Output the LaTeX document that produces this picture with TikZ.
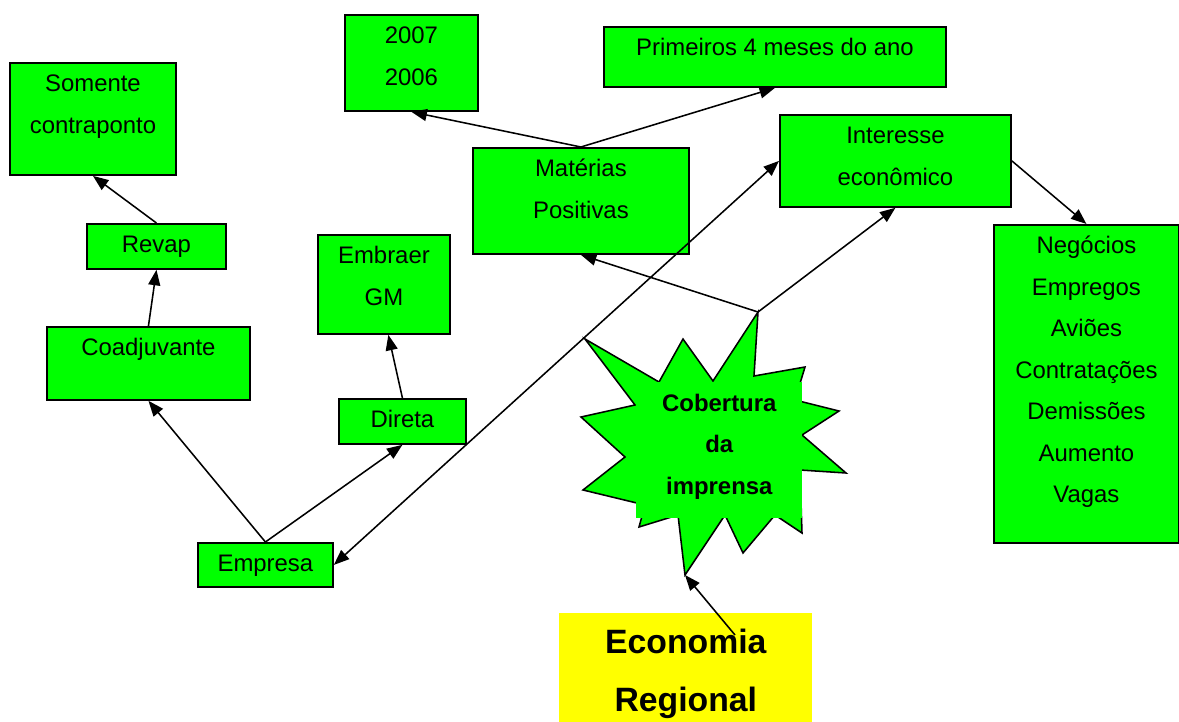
\documentclass[tikz,border=0pt]{standalone}
\usepackage{fontspec}
\setmainfont{Liberation Sans}
\usepackage{tikz}
\usetikzlibrary{arrows.meta}
\definecolor{vivid}{RGB}{0,255,0}
\definecolor{sun}{RGB}{255,255,0}
\newcommand{\boxlines}[1]{\begin{tabular}[t]{@{}c@{}}#1\end{tabular}}

\begin{document}
\begin{tikzpicture}[
    x=0.025cm, y=-0.025cm,
    box/.style={rectangle, draw=black, line width=1.3pt, fill=vivid, anchor=north west,
        text height=12pt, inner xsep=0pt, inner ysep=8.6pt,
        font=\fontsize{17}{29.5}\selectfont},
    core/.style={rectangle, draw=none, fill=vivid, anchor=north west,
        text height=12pt, inner xsep=0pt, inner ysep=8.6pt,
        font=\fontsize{17}{29.5}\selectfont\bfseries},
    theme/.style={rectangle, draw=none, fill=sun, anchor=north west,
        text height=17.2pt, inner xsep=0pt, inner ysep=11.3pt,
        font=\fontsize{24}{41}\selectfont\bfseries},
    burst/.style={draw=black, line width=1.1pt, fill=vivid, line join=miter},
    arrow/.style={-{Triangle[length=11pt, width=8.5pt]}, line width=1.1pt},
    dblarrow/.style={{Triangle[length=11pt, width=8.5pt]}-{Triangle[length=11pt, width=8.5pt]}, line width=1.1pt}
    ]
    \useasboundingbox (0,0) rectangle (1179,722);

    % left branch
    \node (Somente) [box, minimum width=118.1pt, text depth=50.5pt] at (9,62) {\boxlines{Somente\\contraponto}};
    \node (Revap) [box, minimum width=98.9pt, text depth=2.8pt] at (86,223) {Revap};
    \node (Coadj) [box, minimum width=144.4pt, text depth=22.7pt] at (46,326) {Coadjuvante};
    \node (Embraer) [box, minimum width=93.9pt, text depth=41.2pt] at (317,234) {\boxlines{Embraer\\GM}};
    \node (Direta) [box, minimum width=90.3pt, text depth=2.8pt] at (338,398) {Direta};
    \node (Empresa) [box, minimum width=96pt, text depth=2.1pt] at (197,542) {Empresa};

    % top branch
    \node (Anos) [box, minimum width=94.6pt, text depth=39.1pt] at (344,14) {\boxlines{2007\\2006}};
    \node (Primeiros) [box, minimum width=243.3pt, text depth=13.5pt] at (603,26) {Primeiros 4 meses do ano};
    \node (Materias) [box, minimum width=153.6pt, text depth=46.2pt] at (472,147) {\boxlines{Matérias\\Positivas}};

    % right branch
    \node (Interesse) [box, minimum width=164.3pt, text depth=36.2pt] at (779,114) {\boxlines{Interesse\\econômico}};
    \node (Negocios) [box, minimum width=131.6pt, text depth=197pt] at (993,224)
        {\boxlines{Negócios\\Empregos\\Aviões\\Contratações\\Demissões\\Aumento\\Vagas}};

    % centre
    \coordinate (StarTop) at (758,312);
    \coordinate (StarBottom) at (685,575);
    \draw[burst] (StarTop) -- (754,376) -- (805,367) -- (795,400) -- (839,411) -- (802,435)
        -- (846,473) -- (800,470) -- (802,533) -- (775,515) -- (743,553) -- (725,515)
        -- (StarBottom) -- (678,515) -- (639,527) -- (645,505) -- (583,490) -- (625,457)
        -- (581,417) -- (635,405) -- (585,339) -- (659,382) -- (683,339) -- (713,381) -- cycle;
    \node (Cobertura) [core, minimum width=118.1pt, text depth=67.5pt] at (636,382) {\boxlines{Cobertura\\da\\imprensa}};

    \node (Economia) [theme, minimum width=180pt, text depth=60pt] at (559,613) {\boxlines{Economia\\Regional}};
    \coordinate (EconTail) at (735,635);

    % connectors
    \draw[arrow] (Revap.north) -- (Somente.south);
    \draw[arrow] (Coadj.north) -- (Revap.south);
    \draw[arrow] (Empresa.north) -- (Coadj.south);
    \draw[arrow] (Empresa.north) -- (Direta.south);
    \draw[arrow] (Direta.north) -- (Embraer.-85);
    \draw[dblarrow] (Empresa.east) -- (Interesse.west);
    \draw[arrow] (Materias.north) -- (Anos.south);
    \draw[arrow] (Materias.north) -- (Primeiros.south);
    \draw[arrow] (StarTop) -- (Materias.south);
    \draw[arrow] (StarTop) -- (Interesse.south);
    \draw[arrow] (Interesse.east) -- (Negocios.north);
    \draw[arrow] (EconTail) -- (StarBottom);
\end{tikzpicture}
\end{document}
